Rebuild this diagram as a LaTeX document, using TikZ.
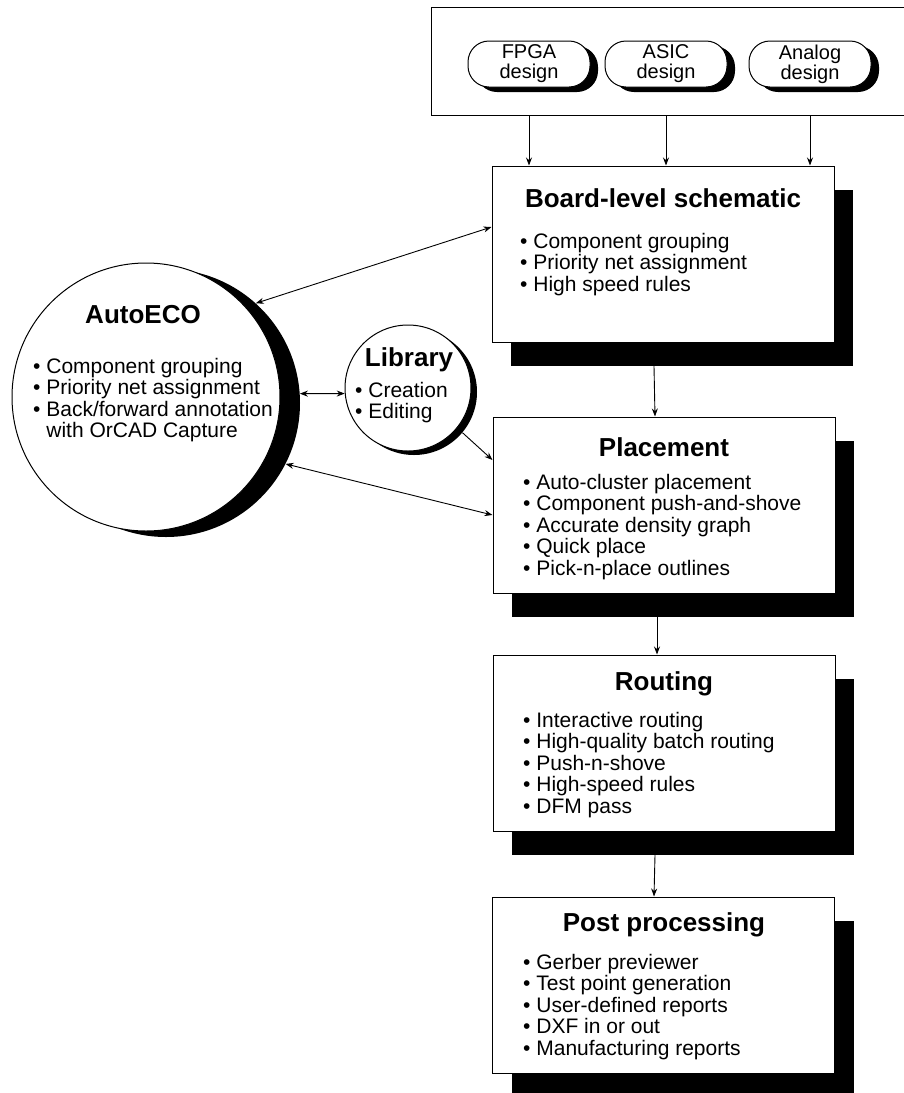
\documentclass[tikz,border=0pt]{standalone}
\usepackage{fontspec}
\setmainfont{Liberation Sans}
\usetikzlibrary{arrows.meta,calc}

\begin{document}
\begin{tikzpicture}[x=1pt,y=-1pt,
    arr/.style={-{Stealth[length=8pt,width=6pt]}, line width=0.9pt},
    darr/.style={{Stealth[length=8pt,width=6pt]}-{Stealth[length=8pt,width=6pt]}, line width=0.9pt},
    stage/.style={draw, fill=white, line width=1pt, minimum width=342pt, minimum height=176pt},
    stageshade/.style={fill=black, minimum width=342pt, minimum height=176pt},
    pill/.style={draw, fill=white, line width=1pt, rounded corners=21pt, minimum width=122pt, minimum height=46pt, inner sep=0pt, align=center, font=\fontsize{20}{20}\selectfont},
    pillshade/.style={fill=black, rounded corners=21pt, minimum width=122pt, minimum height=46pt},
    head/.style={font=\fontsize{26}{28}\selectfont\bfseries},
    items/.style={anchor=north west, align=left, inner sep=0pt, font=\fontsize{21}{21.5}\selectfont}]
    \useasboundingbox (0,0) rectangle (904,1093);
    % design inputs
    \node[draw, line width=1pt, minimum width=490pt, minimum height=108pt] (frame) at (676,61) {};
    \node[pillshade] at (537,69) {};
    \node[pill] (fpga) at (529,64) {FPGA\\design};
    \node[pillshade] at (674,69) {};
    \node[pill] (asic) at (666,64) {ASIC\\design};
    \node[pillshade] at (818,69) {};
    \node[pill] (analog) at (810,64) {Analog\\design};
    % flow boxes
    \node[stageshade] (boardsh) at (682,278) {};
    \node[stage] (board) at (663,254) {};
    \node[stageshade] (placesh) at (683,529) {};
    \node[stage] (place) at (664,505) {};
    \node[stageshade] (routesh) at (683,767) {};
    \node[stage] (route) at (664,743) {};
    \node[stageshade] (postsh) at (683,1009) {};
    \node[stage] (post) at (663,985) {};
    % circles
    \node[circle, fill=black, minimum size=268pt] (ecosh) at (166,403) {};
    \node[circle, draw, fill=white, line width=1pt, minimum size=268pt] (eco) at (146,397) {};
    \node[circle, fill=black, minimum size=126pt] (libsh) at (414,392) {};
    \node[circle, draw, fill=white, line width=1pt, minimum size=126pt] (lib) at (408,388) {};
    % texts
    \node[head] (boardt) at (663,198) {Board-level schematic};
    \node[items] (boardl) at (520,233) {• Component grouping\\• Priority net assignment\\• High speed rules};
    \node[head] (placet) at (664,447) {Placement};
    \node[items] (placel) at (523,474) {• Auto-cluster placement\\• Component push-and-shove\\• Accurate density graph\\• Quick place\\• Pick-n-place outlines};
    \node[head] (routet) at (664,684) {Routing};
    \node[items] (routel) at (523,712) {• Interactive routing\\• High-quality batch routing\\• Push-n-shove\\• High-speed rules\\• DFM pass};
    \node[head] (postt) at (664,925) {Post processing};
    \node[items] (postl) at (523,954) {• Gerber previewer\\• Test point generation\\• User-defined reports\\• DXF in or out\\• Manufacturing reports};
    \node[head] (ecot) at (143,315) {AutoECO};
    \node[items] (ecol) at (33,358) {• Component grouping\\• Priority net assignment\\• Back/forward annotation\\\phantom{• }with OrCAD Capture};
    \node[head] (libt) at (409,360) {Library};
    \node[items] (libl) at (355,382) {• Creation\\• Editing};
    % connectors
    \draw[arr] (fpga |- frame.south) -- (fpga |- board.north);
    \draw[arr] (asic |- frame.south) -- (asic |- board.north);
    \draw[arr] (analog |- frame.south) -- (analog |- board.north);
    \draw[arr] ($(boardsh.south -| board.north)+(-9,0)$) -- ($(place.north)+(-9,0)$);
    \draw[arr] ($(placesh.south -| place.north)+(-7,0)$) -- ($(route.north)+(-7,0)$);
    \draw[arr] ($(routesh.south -| route.north)+(-9,0)$) -- ($(post.north)+(-9,0)$);
    \draw[darr] ([yshift=27pt]board.west) -- (ecosh.48);
    \draw[darr] (ecosh.4) -- (lib.185);
    \draw[darr] (ecosh.-27) -- ([yshift=-10pt]place.west);
    \draw[arr] (libsh.-40) -- ([yshift=45pt]place.west);
\end{tikzpicture}
\end{document}
